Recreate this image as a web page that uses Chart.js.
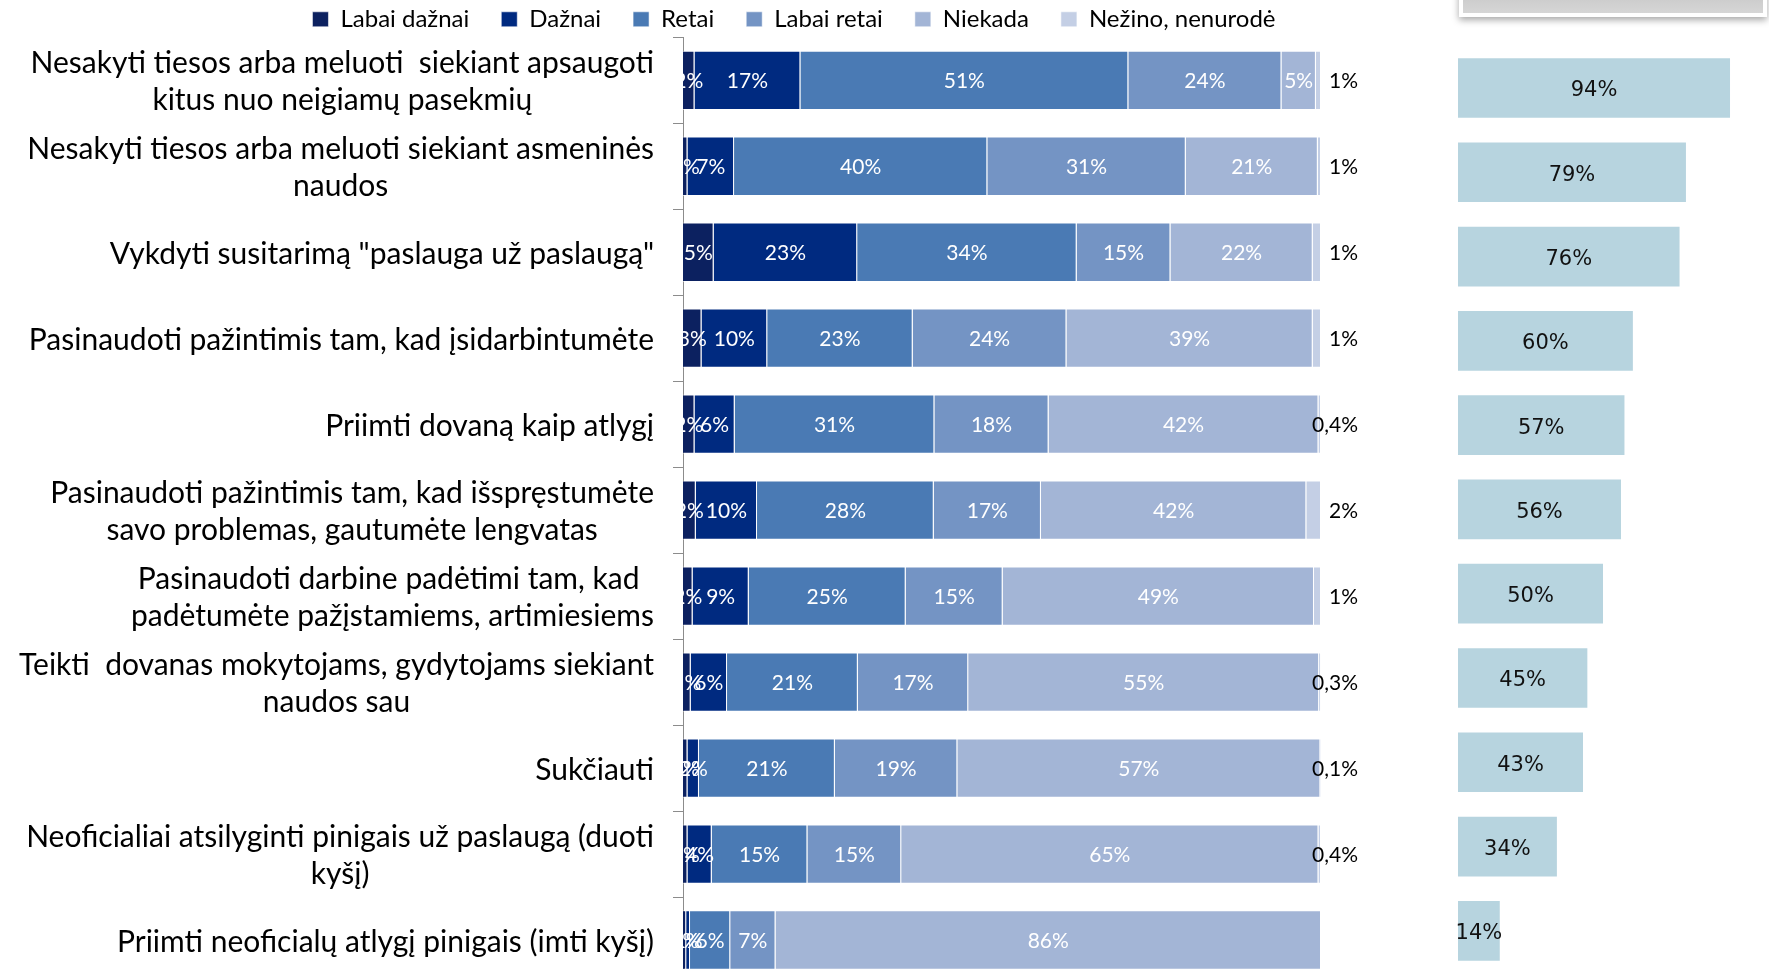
<!DOCTYPE html>
<html>
<head>
<meta charset="utf-8">
<script src="https://cdn.jsdelivr.net/npm/chart.js@4.4.1/dist/chart.umd.min.js"></script>
<style>
  html, body { margin: 0; padding: 0; background: #fff; overflow: hidden; }
  body { width: 1769px; height: 969px; position: relative; }
  #main-wrap { position: absolute; left: 0; top: 0; width: 1588px; height: 983px; }
  #share-wrap { position: absolute; left: 1440px; top: 0; width: 329px; height: 980px; }
  .top-box {
    position: absolute; left: 1459px; top: -21px; width: 300px; height: 30px;
    border: 4px solid #fff; background: linear-gradient(#c2c2c2, #d6d6d6);
    box-shadow: 0 3px 7px rgba(0, 0, 0, 0.35);
  }
</style>
</head>
<body>
<div id="main-wrap"><canvas id="freq-chart"></canvas></div>
<div id="share-wrap"><canvas id="share-chart"></canvas></div>
<div class="top-box"></div>
<script>
const categories = [
  ['Nesakyti tiesos arba meluoti  siekiant apsaugoti', 'kitus nuo neigiamų pasekmių'],
  ['Nesakyti tiesos arba meluoti siekiant asmeninės', 'naudos'],
  ['Vykdyti susitarimą "paslauga už paslaugą"'],
  ['Pasinaudoti pažintimis tam, kad įsidarbintumėte'],
  ['Priimti dovaną kaip atlygį'],
  ['Pasinaudoti pažintimis tam, kad išspręstumėte', 'savo problemas, gautumėte lengvatas'],
  ['Pasinaudoti darbine padėtimi tam, kad ', 'padėtumėte pažįstamiems, artimiesiems'],
  ['Teikti  dovanas mokytojams, gydytojams siekiant', 'naudos sau'],
  ['Sukčiauti'],
  ['Neoficialiai atsilyginti pinigais už paslaugą (duoti', 'kyšį)'],
  ['Priimti neoficialų atlygį pinigais (imti kyšį)']
];

const seriesNames = ['Labai dažnai', 'Dažnai', 'Retai', 'Labai retai', 'Niekada', 'Nežino, nenurodė'];
const seriesColors = ['#0c2160', '#002a80', '#4a7ab4', '#7494c4', '#a3b5d6', '#c4cfe5'];

// shares in %, one array per answer
const labaiDaznai = [1.8, 0.7, 4.8, 2.9, 1.8, 2.0, 1.5, 1.2, 0.7, 0.7, 0.5];
const daznai      = [16.6, 7.3, 22.5, 10.3, 6.3, 9.6, 8.8, 5.7, 1.8, 3.8, 0.6];
const retai       = [51.4, 39.7, 34.4, 22.8, 31.3, 27.7, 24.6, 20.5, 21.3, 15.0, 6.3];
const labaiRetai  = [24.0, 31.1, 14.7, 24.1, 17.9, 16.8, 15.2, 17.3, 19.2, 14.7, 7.1];
const niekada     = [5.4, 20.7, 22.3, 38.6, 42.3, 41.6, 48.8, 55.0, 56.9, 65.4, 85.5];
const nezino      = [0.8, 0.5, 1.3, 1.3, 0.4, 2.3, 1.1, 0.3, 0.1, 0.4, 0];

// right-hand bars
const everShare = [93.8, 78.6, 76.4, 60.3, 57.4, 56.2, 50.0, 44.6, 43.1, 34.1, 14.4];

const seriesValues = [labaiDaznai, daznai, retai, labaiRetai, niekada, nezino];

const labelFont = 'Lato, "Open Sans", sans-serif';

const fmtPct = (v) => (v < 0.5 ? v.toFixed(1).replace('.', ',') : Math.round(v)) + '%';

// category names drawn left of the axis, lines centred on the widest one
const categoryLabels = {
  id: 'categoryLabels',
  afterDraw(chart) {
    const { ctx } = chart;
    const yScale = chart.scales.y;
    const rightEdge = 654;
    const lineH = 37;
    ctx.save();
    ctx.font = `30px ${labelFont}`;
    ctx.fillStyle = '#000';
    ctx.textBaseline = 'middle';
    categories.forEach((lines, i) => {
      const y = yScale.getPixelForTick(i) + 2;
      if (lines.length === 1) {
        ctx.textAlign = 'right';
        ctx.fillText(lines[0], rightEdge, y);
        return;
      }
      const widest = Math.max(...lines.map(l => ctx.measureText(l).width));
      ctx.textAlign = 'center';
      lines.forEach((line, j) => {
        const ly = y + (j - (lines.length - 1) / 2) * lineH;
        ctx.fillText(line, rightEdge - widest / 2, ly);
      });
    });
    ctx.restore();
  }
};

const segmentLabels = {
  id: 'segmentLabels',
  afterDatasetsDraw(chart) {
    const { ctx, chartArea } = chart;
    ctx.save();
    ctx.font = `21px ${labelFont}`;
    ctx.textBaseline = 'middle';

    // inner labels, clipped to the plot
    ctx.save();
    ctx.beginPath();
    ctx.rect(chartArea.left, chartArea.top, chartArea.right - chartArea.left, chartArea.bottom - chartArea.top);
    ctx.clip();
    ctx.fillStyle = '#fff';
    ctx.textAlign = 'center';
    for (let di = 0; di < 5; di++) {
      const meta = chart.getDatasetMeta(di);
      meta.data.forEach((bar, i) => {
        const v = seriesValues[di][i];
        if (!v) return;
        ctx.fillText(fmtPct(v), (bar.x + bar.base) / 2, bar.y + 1);
      });
    }
    ctx.restore();

    // "Nežino" values sit outside the bar end
    ctx.fillStyle = '#000';
    ctx.textAlign = 'right';
    chart.getDatasetMeta(5).data.forEach((bar, i) => {
      const v = nezino[i];
      if (!v) return;
      ctx.fillText(fmtPct(v), chartArea.right + 37, bar.y + 1);
    });
    ctx.restore();
  }
};

// nudge the legend row down a little without moving the plot
const legendShift = {
  id: 'legendShift',
  afterLayout(chart) {
    chart.legend.top += 4;
    chart.legend.bottom += 4;
  }
};

new Chart(document.getElementById('freq-chart'), {
  type: 'bar',
  data: {
    labels: categories,
    datasets: seriesNames.map((name, i) => ({
      label: name,
      data: seriesValues[i],
      backgroundColor: seriesColors[i],
      borderColor: 'rgba(255, 255, 255, 0.55)',
      borderWidth: 1,
      barPercentage: 0.69,
      categoryPercentage: 1
    }))
  },
  options: {
    indexAxis: 'y',
    responsive: true,
    maintainAspectRatio: false,
    animation: false,
    layout: { padding: { top: -28.7, left: 0, right: 0, bottom: 0 } },
    scales: {
      y: {
        stacked: true,
        grid: { display: true, drawOnChartArea: false, tickLength: 10, color: '#8c8c8c', offset: true },
        border: { display: true, color: '#8c8c8c', width: 1 },
        ticks: { display: false },
        afterFit: (s) => { s.width = 683; }
      },
      pad: {
        type: 'linear',
        position: 'right',
        grid: { display: false },
        border: { display: false },
        ticks: { display: false },
        afterFit: (s) => { s.width = 267; }
      },
      x: { stacked: true, display: false, min: 0, max: 100 }
    },
    plugins: {
      legend: {
        position: 'top',
        labels: {
          boxWidth: 16,
          boxHeight: 15,
          padding: 32,
          color: '#000',
          font: { family: labelFont, size: 24 }
        }
      },
      tooltip: { enabled: false }
    }
  },
  plugins: [categoryLabels, segmentLabels, legendShift]
});

const shareLabels = {
  id: 'shareLabels',
  afterDatasetsDraw(chart) {
    const { ctx } = chart;
    ctx.save();
    ctx.font = '21px "DejaVu Sans", sans-serif';
    ctx.fillStyle = '#111';
    ctx.textAlign = 'center';
    ctx.textBaseline = 'middle';
    chart.getDatasetMeta(0).data.forEach((bar, i) => {
      ctx.fillText(Math.round(everShare[i]) + '%', (bar.x + bar.base) / 2, bar.y + 3);
    });
    ctx.restore();
  }
};

new Chart(document.getElementById('share-chart'), {
  type: 'bar',
  data: {
    labels: categories.map(c => c.join(' ')),
    datasets: [{
      data: everShare,
      backgroundColor: '#b7d4df',
      barPercentage: 0.708,
      categoryPercentage: 1
    }]
  },
  options: {
    indexAxis: 'y',
    responsive: true,
    maintainAspectRatio: false,
    animation: false,
    layout: { padding: { left: 18, right: 21, top: 45.85, bottom: 7 } },
    scales: {
      x: { display: false, min: 0, max: 100 },
      y: { display: false }
    },
    plugins: { legend: { display: false }, tooltip: { enabled: false } }
  },
  plugins: [shareLabels]
});
</script>
</body>
</html>
